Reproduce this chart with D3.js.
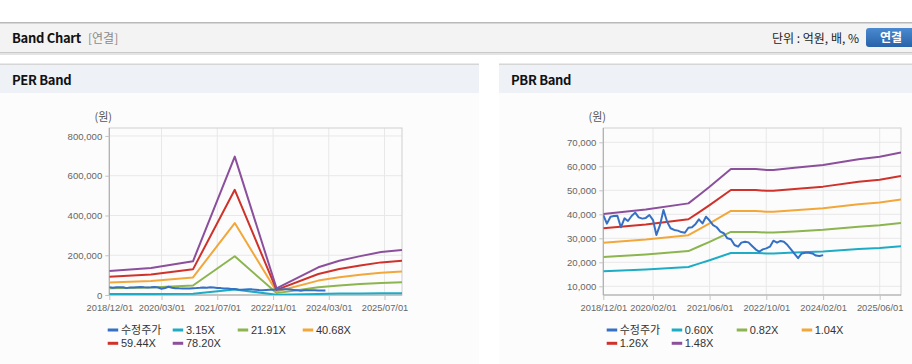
<!DOCTYPE html>
<html><head><meta charset="utf-8">
<script src="https://cdn.jsdelivr.net/npm/d3@7"></script>
<style>
body{margin:0;background:#fff;}
svg{display:block;font-family:"Liberation Sans",Arial,"Noto Sans CJK KR",sans-serif;}
.kr{font-family:"Noto Sans CJK KR","Liberation Sans",sans-serif;}
</style>
</head><body>
<svg id="c" width="912" height="364"></svg>
<script>
// ---------------- DATA ----------------
const priceStart = "2018-12-01";
const priceValues = [39700,36100,39000,39300,39400,34600,38300,37200,39300,40700,38700,38200,38500,39700,37600,31400,35500,41800,36900,34200,33500,33200,32600,32300,34400,34600,36000,37900,36200,39000,37400,35500,34600,32800,32100,30000,29600,27200,26500,28200,28600,28300,26800,25400,24400,25400,25800,26500,29000,28200,28900,28600,27200,25400,23500,21700,23700,24000,24000,23700,22800,22600,23000];

const perDates = ["2018-12-01","2019-12-01","2020-12-01","2021-12-01","2022-12-01","2023-12-01","2024-06-01","2024-12-01","2025-06-01","2025-12-01"];
const perNames = ["3.15X","21.91X","40.68X","59.44X","78.20X"];
const per315  = [4860,5480,6840,28040,1360,5610,6930,7880,8690,9140];
const per2191 = [33810,38120,47540,195000,9440,39000,48200,54780,60470,63540];
const per4068 = [62770,70780,88280,362050,17530,72410,89500,101700,112280,117970];
const per5944 = [91720,103430,128980,529020,25620,105800,130770,148600,164050,172380];
const per7820 = [120660,136070,169690,695980,33700,139200,172040,195500,215830,226780];
const perXTicks = ["2018/12/01","2020/03/01","2021/07/01","2022/11/01","2024/03/01","2025/07/01"];
const perYTicks = [0,200000,400000,600000,800000];

const pbrDates = ["2018-12-01","2019-12-01","2020-12-01","2021-03-01","2021-06-01","2021-12-01","2022-07-01","2022-10-01","2022-12-01","2023-06-01","2024-02-01","2024-12-01","2025-06-01","2025-12-01"];
const pbrNames = ["0.60X","0.82X","1.04X","1.26X","1.48X"];
const pbr060 = [16260,17040,18060,19440,20880,23880,23880,23700,23700,24060,24540,25500,25920,26640];
const pbr082 = [22220,23290,24680,26570,28540,32640,32640,32390,32390,32880,33540,34850,35420,36410];
const pbr104 = [28180,29540,31300,33700,36190,41390,41390,41080,41080,41700,42540,44200,44930,46180];
const pbr126 = [34150,35780,37930,40820,43850,50150,50150,49770,49770,50530,51530,53550,54430,55940];
const pbr148 = [40110,42030,44550,47950,51500,58900,58900,58460,58460,59350,60530,62900,63940,65710];
const pbrXTicks = ["2018/12/01","2020/02/01","2021/06/01","2022/10/01","2024/02/01","2025/06/01"];
const pbrYTicks = [10000,20000,30000,40000,50000,60000,70000];

const priceName = "수정주가";
const colors = ["#3570c4","#1eacc5","#8cb54f","#f2a73a","#cf322b","#8c4f9c"];

// ---------------- DRAW ----------------
const svg = d3.select("#c");
const parse = d3.timeParse("%Y-%m-%d");
const parseTick = d3.timeParse("%Y/%m/%d");
const priceDates = d3.timeMonth.range(parse(priceStart), d3.timeMonth.offset(parse(priceStart), priceValues.length));

// top header
svg.append("rect").attr("x",0).attr("y",0).attr("width",912).attr("height",364).attr("fill","#fff");
svg.append("rect").attr("x",0).attr("y",53).attr("width",912).attr("height",2).attr("fill","#e4e4e4");
svg.append("rect").attr("x",0).attr("y",22).attr("width",912).attr("height",31).attr("fill","#f3f3f3");
svg.append("rect").attr("x",0).attr("y",22).attr("width",912).attr("height",1.5).attr("fill","#b9b9b9");
svg.append("rect").attr("x",0).attr("y",52).attr("width",912).attr("height",1).attr("fill","#c9c9c9");
svg.append("text").attr("class","kr").attr("x",12).attr("y",43).attr("font-size",13).attr("font-weight","bold").attr("fill","#111").attr("letter-spacing",-0.3).text("Band Chart");
svg.append("text").attr("class","kr").attr("x",88).attr("y",43).attr("font-size",12).attr("fill","#8a8a8a").text("[연결]");
svg.append("text").attr("class","kr").attr("x",859).attr("y",43).attr("text-anchor","end").attr("font-size",12).attr("fill","#222").text("단위 : 억원, 배, %");
const grad = svg.append("defs").append("linearGradient").attr("id","bg").attr("x1",0).attr("x2",0).attr("y1",0).attr("y2",1);
grad.append("stop").attr("offset","0").attr("stop-color","#4a8ad0");
grad.append("stop").attr("offset","1").attr("stop-color","#2862a8");
svg.append("rect").attr("x",866).attr("y",28).attr("width",60).attr("height",19).attr("rx",3).attr("fill","url(#bg)");
svg.append("text").attr("class","kr").attr("x",891).attr("y",42).attr("text-anchor","middle").attr("font-size",12).attr("font-weight","bold").attr("fill","#fff").text("연결");

function panel(cfg){
  const g = svg.append("g");
  g.append("rect").attr("x",cfg.px).attr("y",93).attr("width",cfg.pw).attr("height",271).attr("fill","#fcfcfc");
  g.append("rect").attr("x",cfg.px).attr("y",64).attr("width",cfg.pw).attr("height",29).attr("fill","#eef2f7");
  g.append("rect").attr("x",cfg.px).attr("y",63.5).attr("width",cfg.pw).attr("height",1.5).attr("fill","#d6d6d6");
  g.append("text").attr("class","kr").attr("x",cfg.px+12).attr("y",85).attr("font-size",13).attr("font-weight","bold").attr("fill","#111").attr("letter-spacing",-0.3).text(cfg.title);

  const x = d3.scaleTime().domain([parse("2018-12-01"), parse("2025-12-01")]).range([cfg.left, cfg.right]);
  const y = d3.scaleLinear().domain(cfg.yDomain).range([cfg.bottom, cfg.top]);

  g.append("g").selectAll("line").data(cfg.yTicks).join("line")
    .attr("x1",cfg.left).attr("x2",cfg.right).attr("y1",d=>y(d)).attr("y2",d=>y(d))
    .attr("stroke","#e8e8e8").attr("stroke-width",1);
  const xt = cfg.xTicks.map(parseTick);
  g.append("g").selectAll("line").data(xt).join("line")
    .attr("x1",d=>x(d)).attr("x2",d=>x(d)).attr("y1",cfg.top).attr("y2",cfg.bottom)
    .attr("stroke","#e8e8e8").attr("stroke-width",1);
  g.append("rect").attr("x",cfg.left).attr("y",cfg.top).attr("width",cfg.right-cfg.left).attr("height",cfg.bottom-cfg.top)
    .attr("fill","none").attr("stroke","#cfcfcf");

  const yAxis = d3.axisLeft(y).tickValues(cfg.yTicks).tickFormat(d3.format(",")).tickSize(4).tickPadding(3);
  const ya = g.append("g").attr("transform",`translate(${cfg.left},0)`).call(yAxis);
  ya.select(".domain").attr("stroke","#aaa").attr("d",`M0,${cfg.top}V${cfg.bottom}`);
  ya.selectAll(".tick line").attr("stroke","#c4c4c4");
  ya.selectAll("text").attr("fill","#666").attr("font-size",9.6).attr("font-family","Liberation Sans, Arial, sans-serif");

  const xAxis = d3.axisBottom(x).tickValues(xt).tickFormat(d3.timeFormat("%Y/%m/%d")).tickSize(5).tickPadding(4);
  const xa = g.append("g").attr("transform",`translate(0,${cfg.bottom})`).call(xAxis);
  xa.select(".domain").attr("stroke","#aaa").attr("d",`M${cfg.left},0H${cfg.right}`);
  xa.selectAll(".tick line").attr("stroke","#c4c4c4");
  xa.selectAll("text").attr("fill","#666").attr("font-size",9.3).attr("font-family","Liberation Sans, Arial, sans-serif");

  g.append("text").attr("class","kr").attr("x",cfg.left-6).attr("y",121).attr("text-anchor","middle").attr("font-size",11).attr("fill","#555").text("(원)");

  const cid = "clip"+cfg.title.replace(/\s/g,"");
  svg.select("defs").append("clipPath").attr("id",cid).append("rect")
    .attr("x",cfg.left).attr("y",cfg.top).attr("width",cfg.right-cfg.left).attr("height",cfg.bottom-cfg.top);
  const lines = g.append("g").attr("clip-path",`url(#${cid})`);
  const line = d3.line().x(d=>x(d[0])).y(d=>y(d[1]));
  const bd = cfg.bandDates.map(parse);
  cfg.bands.forEach((vals,i)=>{
    lines.append("path").datum(vals.map((v,j)=>[bd[j],v])).attr("d",line)
      .attr("fill","none").attr("stroke",colors[i+1]).attr("stroke-width",2).attr("stroke-linejoin","round");
  });
  lines.append("path").datum(priceValues.map((v,j)=>[priceDates[j],v])).attr("d",line)
    .attr("fill","none").attr("stroke",colors[0]).attr("stroke-width",2).attr("stroke-linejoin","round");

  const names = [priceName].concat(cfg.bandNames);
  names.forEach((n,i)=>{
    const col = i%4, row = Math.floor(i/4);
    const lx = cfg.legX + col*65, ly = 330 + row*13.3;
    g.append("line").attr("x1",lx).attr("x2",lx+10.5).attr("y1",ly).attr("y2",ly)
      .attr("stroke",colors[i]).attr("stroke-width",3);
    g.append("text").attr("class", i===0?"kr":null).attr("x",lx+cfg.legTx).attr("y",ly+4).attr("font-size",11).attr("fill","#333").text(n);
  });
}

panel({title:"PER Band", px:0, pw:479, left:109.3, right:402, top:128, bottom:295,
  yDomain:[0,840000], yTicks:perYTicks, xTicks:perXTicks,
  bandDates:perDates, bands:[per315,per2191,per4068,per5944,per7820], bandNames:perNames,
  legX:107.7, legTx:13.3});
panel({title:"PBR Band", px:499, pw:413, left:603.3, right:901, top:128, bottom:295,
  yDomain:[6375,75960], yTicks:pbrYTicks, xTicks:pbrXTicks,
  bandDates:pbrDates, bands:[pbr060,pbr082,pbr104,pbr126,pbr148], bandNames:pbrNames,
  legX:606.7, legTx:13});
</script>
</body></html>
